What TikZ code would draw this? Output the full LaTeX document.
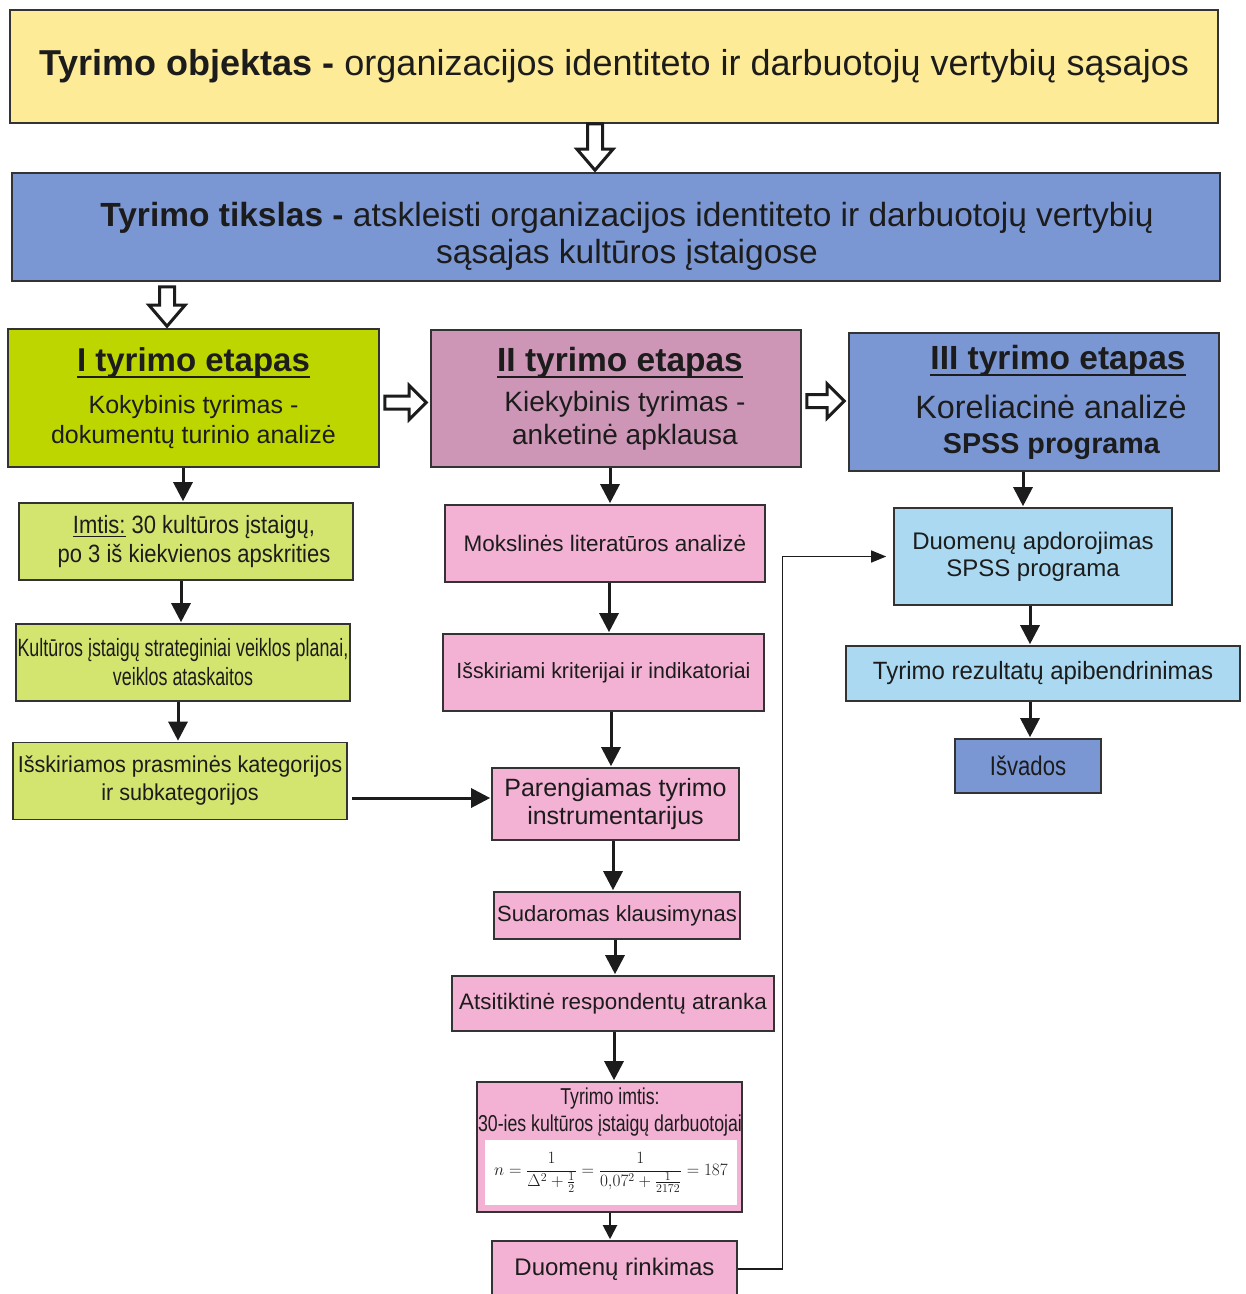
\documentclass[tikz,border=0pt]{standalone}
\usepackage[no-math]{fontspec}
\setmainfont{Liberation Sans}
\usetikzlibrary{arrows.meta,calc}

\definecolor{cYel}{RGB}{253,235,151}
\definecolor{cBlue}{RGB}{122,150,211}
\definecolor{cGreen}{RGB}{189,214,0}
\definecolor{cLgreen}{RGB}{212,229,111}
\definecolor{cMauve}{RGB}{205,150,182}
\definecolor{cPink}{RGB}{243,178,212}
\definecolor{cLblue}{RGB}{170,217,241}
\definecolor{cInk}{RGB}{28,28,28}

% font size / stretched font helpers
\newcommand\fsz[2]{\fontsize{#1pt}{#2pt}\selectfont}
\newcommand\nfs[3]{\addfontfeature{FakeStretch=#1}\fontsize{#2pt}{#3pt}\selectfont}
% underline that crosses descenders: depth, thickness, text
\newcommand\ulbar[3]{\setbox0\hbox{#3}\rlap{\rule[-#1]{\wd0}{#2}}\box0\relax}

\tikzset{
  box/.style={draw=black!80, line width=1.6pt, inner sep=0pt, align=flush center, text=cInk},
  bx/.code 2 args={\pgfmathsetmacro\bxw{#1}%
    \edef\bxtmp{\noexpand\tikzset{minimum width=\bxw pt, text width=\bxw pt, minimum height=#2pt}}\bxtmp},
  arr/.style={line width=3pt, cInk, -{Triangle[length=19pt,width=19pt]}, shorten >=1pt},
  arrsmall/.style={line width=2pt, cInk, -{Triangle[length=14pt,width=14pt]}, shorten >=1pt},
  hollow/.style={draw=cInk, line width=3pt, fill=white, line join=miter},
  fb/.style={line width=1.3pt, cInk, -{Triangle[length=15pt,width=12pt]}, shorten >=7pt},
}

% vertical flow arrow between two nodes at a given x
\newcommand\vflow[4][arr]{\draw[#1] let \p1=(#2.south), \p2=(#3.north) in (#4pt,\y1) -- (#4pt,\y2);}
% hollow block arrow pointing down: nodes, x, top gap, bottom gap
\newcommand\hdown[5]{\draw[hollow] let \p1=(#1.south), \p2=(#2.north) in
  ({#3pt-7.5pt},{\y1-#4pt}) -- ({#3pt-7.5pt},{\y2+#5pt+21pt}) -- ({#3pt-18pt},{\y2+#5pt+21pt}) --
  ({#3pt},{\y2+#5pt}) -- ({#3pt+18pt},{\y2+#5pt+21pt}) -- ({#3pt+7.5pt},{\y2+#5pt+21pt}) --
  ({#3pt+7.5pt},{\y1-#4pt}) -- cycle;}
% hollow block arrow pointing right: nodes, y
\newcommand\hright[3]{\draw[hollow] let \p1=(#1.east), \p2=(#2.west) in
  ({\x1+5pt},{-#3pt+6.5pt}) -- ({\x2-21pt},{-#3pt+6.5pt}) -- ({\x2-21pt},{-#3pt+17pt}) --
  ({\x2-4pt},{-#3pt}) -- ({\x2-21pt},{-#3pt-17pt}) -- ({\x2-21pt},{-#3pt-6.5pt}) --
  ({\x1+5pt},{-#3pt-6.5pt}) -- cycle;}

\begin{document}
\begin{tikzpicture}[x=1pt,y=-1pt]
\useasboundingbox (0,0) rectangle (1246,1294);
\fill[white] (0,0) rectangle (1246,1294);

% object and aim
\node[box, bx={1208}{113}, fill=cYel, font=\fsz{36}{42}] (obj) at (614,66.5)
  {\textbf{Tyrimo objektas -} organizacijos identiteto ir darbuotojų vertybių sąsajos};
\node[box, bx={1208}{108}, fill=cBlue, font=\fsz{33.5}{37}] (aim) at (616,227)
  {\rule{0pt}{43pt}\hspace*{22pt}\textbf{Tyrimo tikslas -} atskleisti organizacijos identiteto ir darbuotojų vertybių\\
   \hspace*{22pt}sąsajas kultūros įstaigose};

% the three stages
\node[box, bx={371}{138}, fill=cGreen, font=\fsz{25}{30}] (s1) at (193.5,398)
  {\fsz{33}{40}\ulbar{7pt}{2pt}{\textbf{I tyrimo etapas}}\\[12pt]
   \fsz{25}{30}Kokybinis tyrimas -\\dokumentų turinio analizė};
\node[box, bx={370}{137}, fill=cMauve, font=\fsz{28}{33}] (s2) at (616,398.5)
  {\fsz{33.5}{40}\hspace*{8pt}\ulbar{7pt}{2pt}{\textbf{II tyrimo etapas}}\\[7pt]
   \fsz{28}{33}\hspace*{18pt}Kiekybinis tyrimas -\\\hspace*{18pt}anketinė apklausa};
\node[box, bx={370}{138}, fill=cBlue, font=\fsz{30}{35}] (s3) at (1034,402)
  {\fsz{33.5}{40}\hspace*{48pt}\ulbar{7pt}{2pt}{\textbf{III tyrimo etapas}}\\[14pt]
   \fsz{32.3}{35}\hspace*{34pt}Koreliacinė analizė\\
   \fsz{28.7}{35}\hspace*{35pt}\textbf{SPSS programa}};

% stage I column
\node[box, bx={334}{77}, fill=cLgreen, font=\nfs{0.88}{25}{29}] (L1) at (186,541.5)
  {\hspace*{16pt}\ulbar{3.5pt}{1.2pt}{Imtis:} 30 kultūros įstaigų,\\\hspace*{16pt}po 3 iš kiekvienos apskrities};
\node[box, bx={334}{77}, fill=cLgreen, font=\nfs{0.715}{25}{29}] (L2) at (183,662.5)
  {Kultūros įstaigų strateginiai veiklos planai,\\veiklos ataskaitos};
\node[box, bx={334}{77}, fill=cLgreen, font=\nfs{0.94}{23}{28}] (L3) at (180,781)
  {Išskiriamos prasminės kategorijos\\ir subkategorijos};

% stage II column
\node[box, bx={320}{77}, fill=cPink, font=\fsz{22.5}{27}] (M1) at (605,543.5)
  {Mokslinės literatūros analizė};
\node[box, bx={321}{77}, fill=cPink, font=\nfs{0.97}{22}{27}] (M2) at (603.5,672.5)
  {Išskiriami kriterijai ir indikatoriai};
\node[box, bx={247}{72}, fill=cPink, font=\fsz{25}{28}] (M3) at (615.5,804)
  {Parengiamas tyrimo\\instrumentarijus};
\node[box, bx={246}{47}, fill=cPink, font=\fsz{22}{26}] (M4) at (617,915.5)
  {Sudaromas klausimynas};
\node[box, bx={322}{55}, fill=cPink, font=\fsz{22.4}{26}] (M5) at (613,1003.5)
  {Atsitiktinė respondentų atranka};
\node[box, bx={265}{130}, fill=cPink] (M6) at (609.5,1147) {};
\node[inner sep=0pt, align=center, text=cInk, font=\nfs{0.77}{23}{27}] (M6t) at (610,1112)
  {Tyrimo imtis:\\30-ies kultūros įstaigų darbuotojai};
\node[fill=white, inner sep=0pt, minimum width=252pt, minimum height=65pt, text=cInk,
      font=\fsz{18}{21}] (frm) at (611,1172.5)
  {$\displaystyle n=\frac{1}{\Delta^{2}+\frac{1}{2}}=\frac{1}{0{,}07^{2}+\frac{1}{2172}}=187$};
\node[box, bx={245}{56}, fill=cPink, font=\fsz{24}{28}] (M7) at (614.5,1269)
  {Duomenų rinkimas};

% stage III column
\node[box, bx={278}{97}, fill=cLblue, font=\fsz{24}{27}] (R1) at (1033,556.5)
  {Duomenų apdorojimas\\SPSS programa};
\node[box, bx={394}{55}, fill=cLblue, font=\nfs{0.96}{25}{28}] (R2) at (1043,673.5)
  {Tyrimo rezultatų apibendrinimas};
\node[box, bx={146}{54}, fill=cBlue, font=\nfs{0.82}{27}{30}] (R3) at (1028,766)
  {Išvados};

% hollow block arrows
\hdown{obj}{aim}{595}{0}{2}
\hdown{aim}{s1}{167}{5}{2}
\hright{s1}{s2}{402.5}
\hright{s2}{s3}{401}

% filled flow arrows
\vflow{s1}{L1}{183}
\vflow{L1}{L2}{181}
\vflow{L2}{L3}{178}
\vflow{s2}{M1}{610}
\vflow{M1}{M2}{609}
\vflow{M2}{M3}{611}
\vflow{M3}{M4}{613}
\vflow{M4}{M5}{615}
\vflow{M5}{M6}{614}
\vflow[arrsmall]{M6}{M7}{610}
\vflow{s3}{R1}{1023}
\vflow{R1}{R2}{1030}
\vflow{R2}{R3}{1030}

% categories feed the instrument
\draw[arr] let \p1=(L3.east), \p2=(M3.west) in ({\x1+4pt},-798pt) -- ({\x2},-798pt);

% collected data go to processing
\draw[fb] (M7.east) -- ++(45,0) |- (R1.west);
\end{tikzpicture}
\end{document}
